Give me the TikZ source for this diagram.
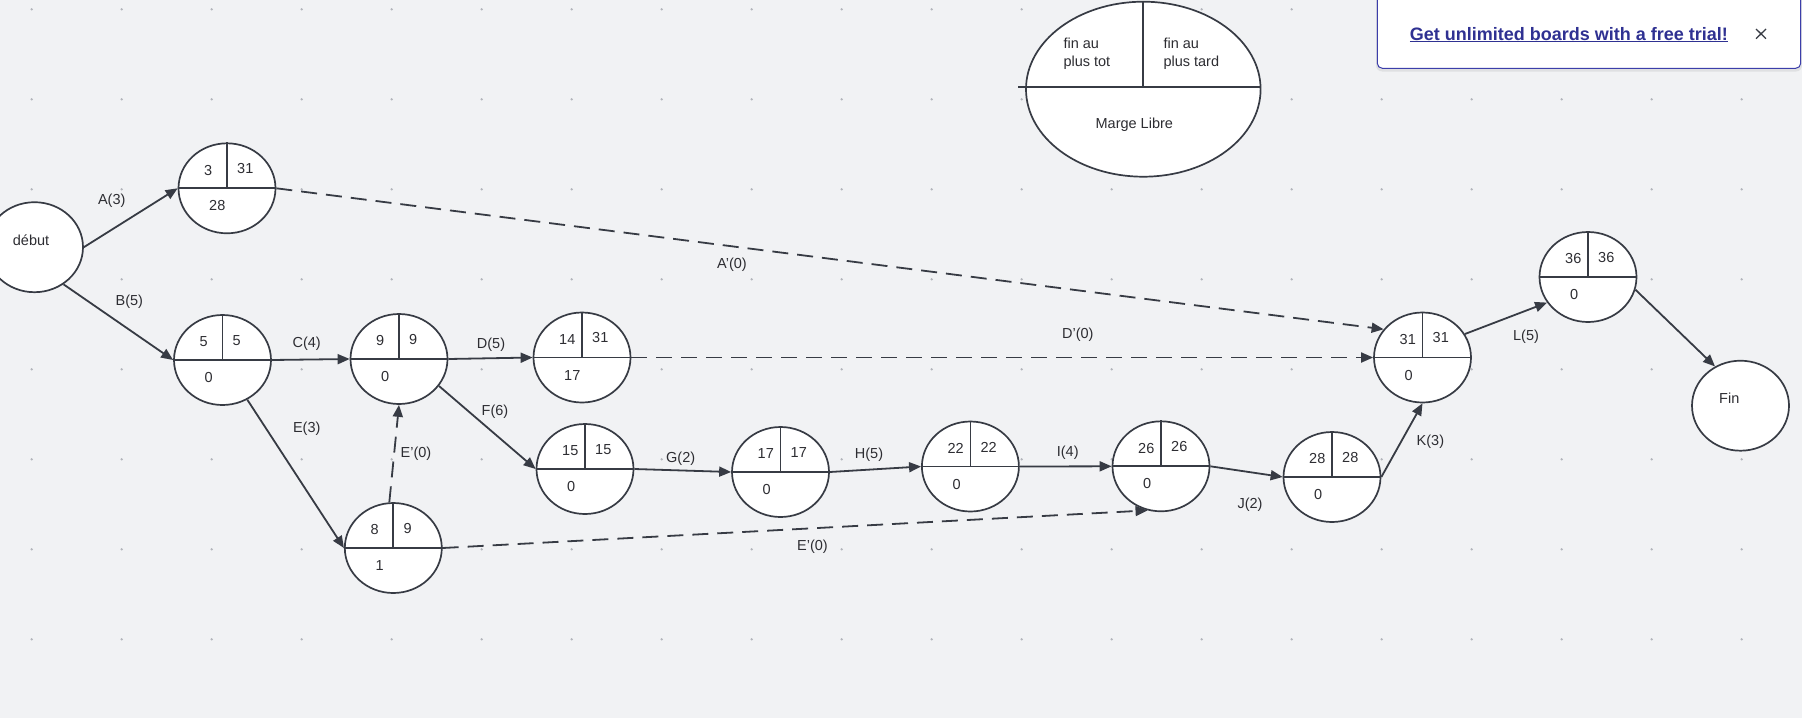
\documentclass[tikz,border=0pt]{standalone}
\usepackage{fontspec}
\setmainfont{Liberation Sans}
\usetikzlibrary{shapes.geometric,arrows.meta,calc}
\definecolor{bg}{RGB}{241,242,244}
\definecolor{ln}{RGB}{55,59,68}
\definecolor{tx}{RGB}{45,45,50}
\definecolor{dotc}{RGB}{180,182,188}
\definecolor{bannertx}{RGB}{47,49,146}
\definecolor{bannerln}{RGB}{60,62,170}
\tikzset{
  evt/.style={ellipse, draw=ln, line width=1.7pt, fill=white, minimum width=97pt, minimum height=90pt, inner sep=0pt},
  num/.style={anchor=west, inner sep=0pt, text=tx, font=\fontsize{14.5}{17.7}\selectfont},
  lbl/.style={inner sep=0pt, text=tx, font=\fontsize{14.5}{17.7}\selectfont},
  arr/.style={draw=ln, line width=1.8pt, -{Triangle[length=12pt,width=10pt]}},
  darr/.style={arr, dash pattern=on 16pt off 9pt},
  divl/.style={draw=ln, line width=1.7pt},
}
\newcommand\evtnode[6]{%
  \node[evt] (#1) at (#2,#3) {};
  \draw[divl] (#1.west) -- (#1.east);
  \draw[divl] (#1.north) -- (#1.center);
  \node[num] (#1-ef) at ($(#1.center)+(-23,-18.2)$) {#4};
  \node[num] (#1-lf) at ($(#1.center)+(10,-19.5)$) {#5};
  \node[num] (#1-ml) at ($(#1.center)+(-18,17.7)$) {#6};
}
\begin{document}
\begin{tikzpicture}[x=1pt,y=-1pt]
\useasboundingbox (0,0) rectangle (1802,718);
\fill[bg] (0,0) rectangle (1802,718);
\foreach \i in {0,...,19} \foreach \j in {0,...,7}
  \fill[dotc] (31.7+90*\i, 9.3+90*\j) circle (1.3);

% start / end
\node[evt] (deb) at (34.5,247.2) {};
\node[lbl, anchor=west] (debt) at ($(deb.center)+(-21.8,-7)$) {début};
\node[evt] (fin) at (1740.5,405.7) {};
\node[lbl, anchor=west] (fint) at ($(fin.center)+(-21.5,-7.4)$) {Fin};

% events
\evtnode{A}{227}{188.3}{3}{31}{28}
\evtnode{B}{222.5}{360}{5}{5}{0}
\evtnode{C}{399}{359}{9}{9}{0}
\evtnode{D}{582}{357.5}{14}{31}{17}
\evtnode{E}{393.3}{548}{8}{9}{1}
\evtnode{F}{585}{469}{15}{15}{0}
\evtnode{G}{780.5}{472}{17}{17}{0}
\evtnode{H}{970.4}{466.5}{22}{22}{0}
\evtnode{I}{1161}{466.3}{26}{26}{0}
\evtnode{J}{1332}{477}{28}{28}{0}
\evtnode{K}{1422.5}{357.5}{31}{31}{0}
\evtnode{L}{1588}{277}{36}{36}{0}

% connectors
\draw[arr] (deb.east) -- (A.west);
\draw[arr] (deb.-52) -- (B.west);
\draw[arr] (B.east) -- (C.west);
\draw[arr] (C.east) -- (D.west);
\draw[arr] (C.-34) -- (F.west);
\draw[arr] (B.-58) -- (E.west);
\draw[darr] (E.95) -- (C.south);
\draw[darr] (E.east) -- (I.-107);
\draw[arr] (F.east) -- (G.west);
\draw[arr] (G.east) -- (H.west);
\draw[arr] (H.east) -- (I.west);
\draw[arr] (I.east) -- (J.west);
\draw[arr] (J.east) -- (K.south);
\draw[arr] (K.29) -- (L.-148);
\draw[arr] (L.-15) -- (fin.123);
\draw[darr] (A.east) -- (K.144);
\draw[darr] (D.east) -- (K.west);

% labels
\node[lbl] (lA) at (111.7,200.7) {A(3)};
\node[lbl] (lB) at (129.3,301.7) {B(5)};
\node[lbl] (lC) at (306.7,343.3) {C(4)};
\node[lbl] (lD) at (491,345) {D(5)};
\node[lbl] (lF) at (495,411.7) {F(6)};
\node[lbl] (lE) at (306.7,428.3) {E(3)};
\node[lbl] (lE1) at (416,454) {E'(0)};
\node[lbl] (lE2) at (812.5,546.7) {E'(0)};
\node[lbl] (lG) at (680.7,458.3) {G(2)};
\node[lbl] (lH) at (869,455) {H(5)};
\node[lbl] (lI) at (1067.7,452.3) {I(4)};
\node[lbl] (lJ) at (1250,504.5) {J(2)};
\node[lbl] (lK) at (1430.4,441.7) {K(3)};
\node[lbl] (lL) at (1526,336.7) {L(5)};
\node[lbl] (lAp) at (732,264.3) {A'(0)};
\node[lbl] (lDp) at (1077.8,334.4) {D'(0)};

% legend
\node[ellipse, draw=ln, line width=1.7pt, fill=white, minimum width=234.6pt, minimum height=175pt, inner sep=0pt] (leg) at (1143.3,89.2) {};
\draw[divl] ($(leg.west)+(-7,-2.5)$) -- ($(leg.east)+(0,-2.5)$);
\draw[divl] (leg.north) -- ($(leg.center)+(0,-2.5)$);
\node[lbl, anchor=north west, align=left] (legtot) at (1063.3,37.9) {fin au\\plus tot};
\node[lbl, anchor=north west, align=left] (legtard) at (1163.3,37.9) {fin au\\plus tard};
\node[lbl] (legml) at (1134.3,125) {Marge Libre};

% banner
\fill[black, opacity=0.07, rounded corners=6pt] (1376,-10) rectangle (1802,71.5);
\draw[bannerln, fill=white, line width=1pt, rounded corners=5pt] (1377.3,-10) rectangle (1800.7,68.3);
\node[inner sep=0pt, anchor=base, text=bannertx, font=\bfseries\fontsize{18}{21}\selectfont] (ban) at (1568.8,40) {\underline{Get unlimited boards with a free trial!}};
\coordinate (x1) at (1756,29);
\coordinate (x2) at (1766,38.7);
\draw[ln, line width=1.3pt] (x1) -- (x2) (x1|-x2) -- (x2|-x1);
\end{tikzpicture}
\end{document}
